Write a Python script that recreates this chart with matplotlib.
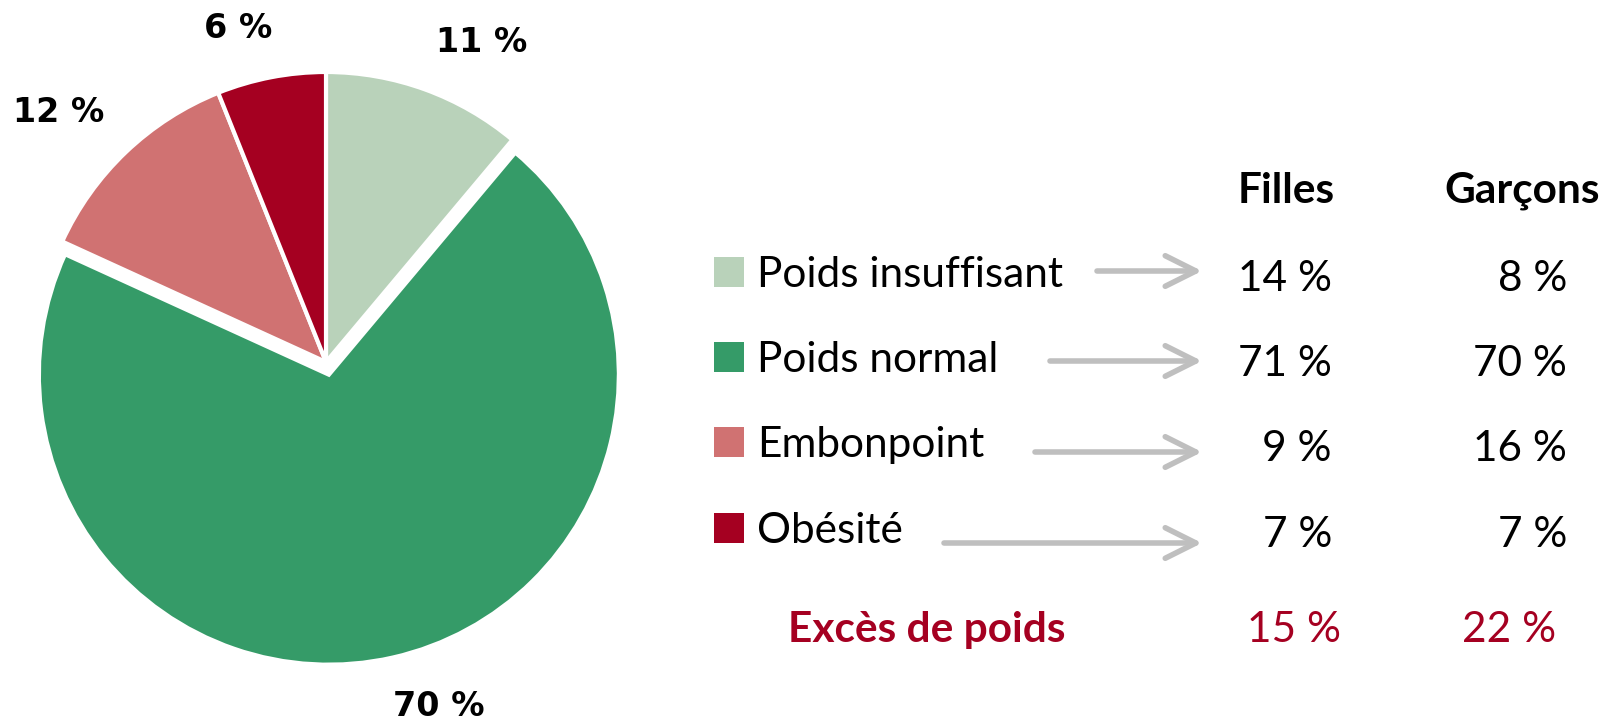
import matplotlib
matplotlib.use("Agg")
import matplotlib.pyplot as plt
from matplotlib.patches import Rectangle, FancyArrowPatch

# data
categories = ["Poids insuffisant", "Poids normal", "Embonpoint", "Obésité"]
share = [11, 70, 12, 6]
filles = [14, 71, 9, 7]
garcons = [8, 70, 16, 7]
exces_label = "Excès de poids"
exces = [15, 22]
colors = ["#b9d2ba", "#359b68", "#d07272", "#a50021"]

W, H = 1608, 726
fig = plt.figure(figsize=(W / 100, H / 100), dpi=100)
ax = fig.add_axes([0, 0, 1, 1])

# explode is in data units (pixels here)
wedges, _ = ax.pie(share, colors=colors, startangle=90, counterclock=False,
                   center=(326, H - 362), radius=290,
                   explode=[0, 13, 0, 0],
                   wedgeprops=dict(edgecolor="white", linewidth=3))
ax.set_xlim(0, W)
ax.set_ylim(0, H)
ax.set_aspect("equal")
ax.axis("off")


def txt(x, y, s, **kw):
    ax.text(x, H - y, s, **kw)


# pie labels (bold, outside)
pie_label_pos = [(482, 43), (439, 706), (59, 113), (238, 29)]
for (x, y), v in zip(pie_label_pos, share):
    txt(x, y, f"{v} %", ha="center", va="center", fontsize=24,
        fontweight="bold", family="DejaVu Sans")

font = "Lato"
fs = 30.5

# headers
txt(1286, 203, "Filles", ha="center", va="baseline", fontsize=fs,
    fontweight="bold", family=font)
txt(1522, 203, "Garçons", ha="center", va="baseline", fontsize=fs,
    fontweight="bold", family=font)

row_base = [287, 372, 457, 543]
arrow_y = [271, 361, 452, 543]
arrow_x0 = [1097, 1050, 1035, 944]
for i, cat in enumerate(categories):
    yb = row_base[i]
    ax.add_patch(Rectangle((714, H - yb), 30, 30, color=colors[i], lw=0))
    txt(757, yb, cat, ha="left", va="baseline", fontsize=fs, family=font)
    ax.add_patch(FancyArrowPatch((arrow_x0[i], H - arrow_y[i]), (1202, H - arrow_y[i]),
                                 arrowstyle="->,head_length=1.0,head_width=0.5",
                                 mutation_scale=22, lw=4, color="#bfbfbf",
                                 shrinkA=0, shrinkB=0))
    txt(1332, yb + 4, f"{filles[i]} %", ha="right", va="baseline",
        fontsize=fs, family=font)
    txt(1567, yb + 4, f"{garcons[i]} %", ha="right", va="baseline",
        fontsize=fs, family=font)

red = "#a50021"
txt(927, 642, exces_label, ha="center", va="baseline", fontsize=fs,
    fontweight="bold", color=red, family=font)
txt(1341, 642, f"{exces[0]} %", ha="right", va="baseline", fontsize=fs,
    color=red, family=font)
txt(1556, 642, f"{exces[1]} %", ha="right", va="baseline", fontsize=fs,
    color=red, family=font)

fig.savefig("out.png", dpi=100)
